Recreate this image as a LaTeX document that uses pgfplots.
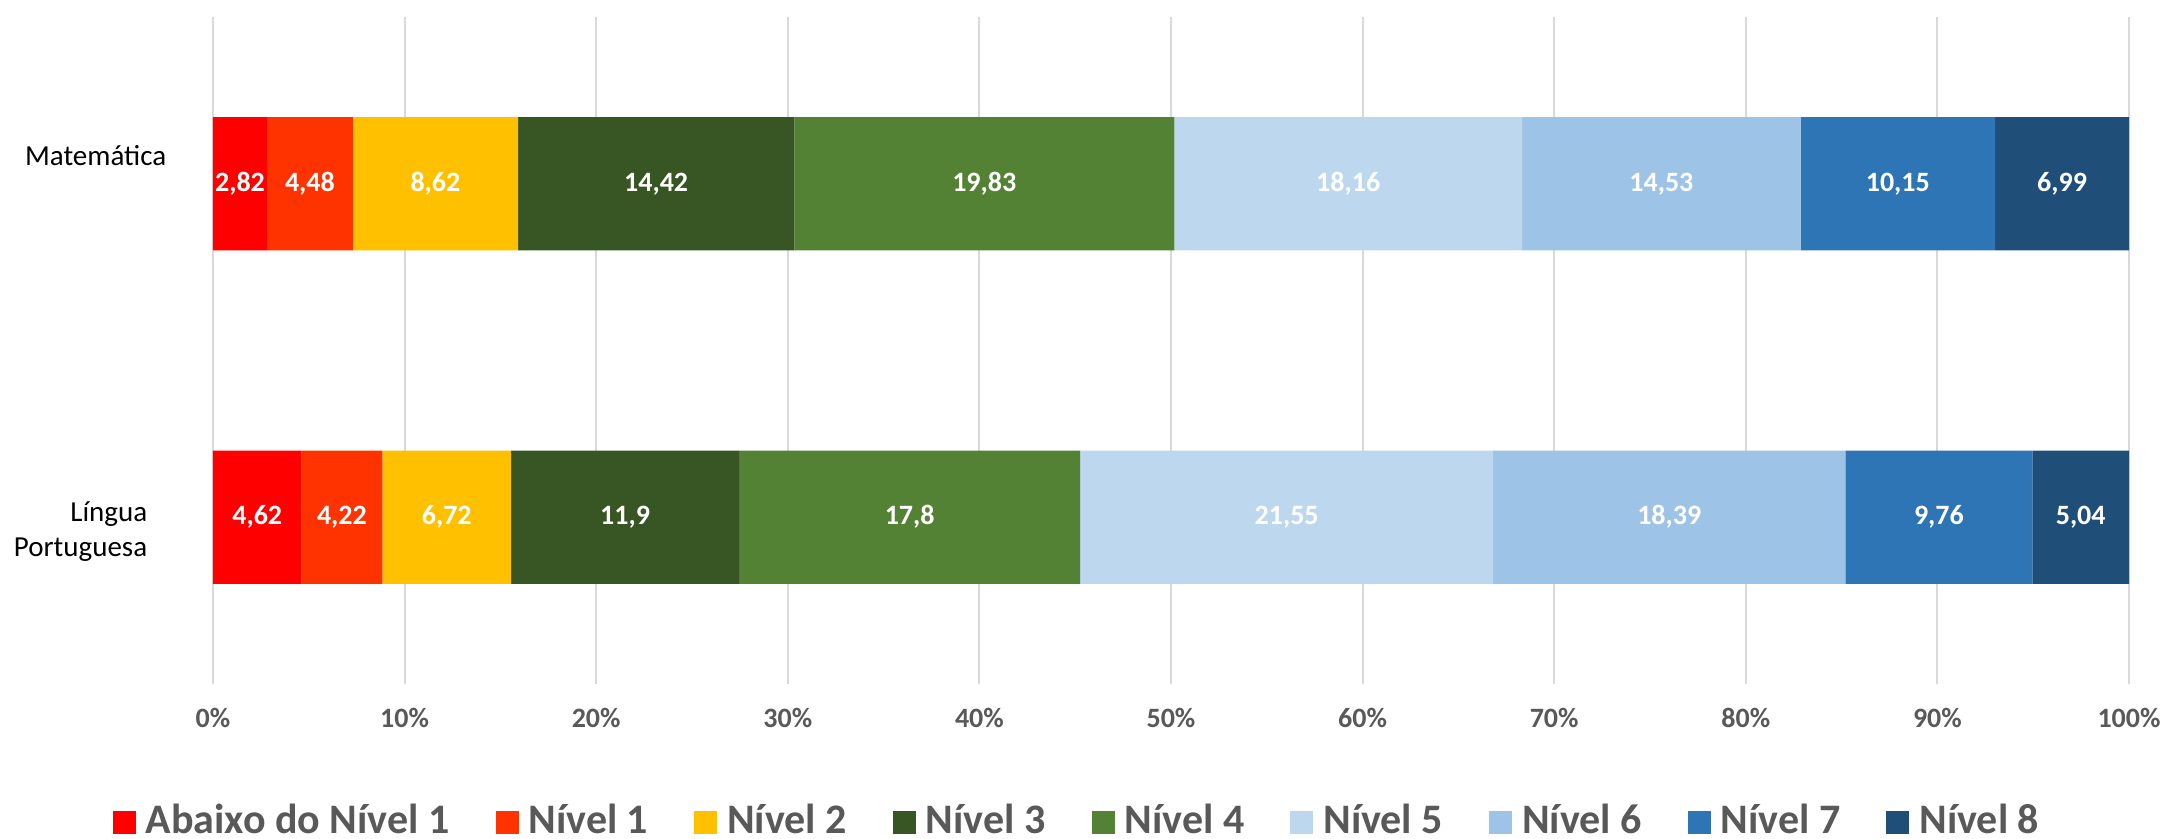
\documentclass[border=0pt]{standalone}
\usepackage{pgfplots}
\pgfplotsset{compat=1.18}
\usepackage{fontspec}
\setmainfont{Carlito}
\usetikzlibrary{calc}

\definecolor{c0}{HTML}{FF0000}
\definecolor{c1}{HTML}{FF3300}
\definecolor{c2}{HTML}{FFC000}
\definecolor{c3}{HTML}{375623}
\definecolor{c4}{HTML}{548235}
\definecolor{c5}{HTML}{BDD7EE}
\definecolor{c6}{HTML}{9DC3E6}
\definecolor{c7}{HTML}{2E75B6}
\definecolor{c8}{HTML}{1F4E79}
\definecolor{txt}{HTML}{595959}
\definecolor{gridc}{HTML}{D9D9D9}

\begin{document}
\begin{tikzpicture}
\begin{axis}[
  name=ax,
  xbar stacked,
  scale only axis,
  width=479pt, height=166.75pt,
  xmin=0, xmax=100,
  ymin=-0.5, ymax=1.5,
  bar width=0.4,
  xtick={0,10,...,100},
  xticklabel={\pgfmathprintnumber{\tick}\%},
  /pgf/number format/assume math mode=true,
  xticklabel style={font=\fontsize{7}{9}\selectfont\bfseries, text=txt, anchor=base, yshift=-11pt},
  xmajorgrids,
  grid style={gridc, line width=0.5pt},
  axis line style={draw=none},
  major tick length=0pt,
  ytick={0},
  yticklabels={{Língua\\Portuguesa}},
  yticklabel style={font=\fontsize{7.25}{8.75}\selectfont, align=right, anchor=east, inner sep=0pt, xshift=-16.25pt, yshift=-3.5pt},
  extra y ticks={1},
  extra y tick labels={Matemática},
  extra y tick style={yticklabel style={xshift=4.75pt, yshift=10.5pt}},
  point meta=rawx,
  nodes near coords={\pgfmathprintnumber[use comma, precision=2]{\pgfplotspointmeta}},
  every node near coord/.append style={font=\fontsize{7}{9}\selectfont\bfseries, text=white, anchor=center},
  legend style={draw=none, at={(0.4525,-0.207)}, anchor=center, legend columns=-1,
    font=\fontsize{10.5}{12}\selectfont\bfseries, text=txt, inner sep=0pt,
    /tikz/every odd column/.append style={column sep=0.5pt},
    /tikz/every even column/.append style={column sep=9.5pt}},
  legend image code/.code={\fill[#1] (0pt,-2.875pt) rectangle (5.75pt,2.875pt);},
]
\addplot[fill=c0, draw=none] coordinates {(4.62,0) (2.82,1)};
\addplot[fill=c1, draw=none] coordinates {(4.22,0) (4.48,1)};
\addplot[fill=c2, draw=none] coordinates {(6.72,0) (8.62,1)};
\addplot[fill=c3, draw=none] coordinates {(11.9,0) (14.42,1)};
\addplot[fill=c4, draw=none] coordinates {(17.8,0) (19.83,1)};
\addplot[fill=c5, draw=none] coordinates {(21.55,0) (18.16,1)};
\addplot[fill=c6, draw=none] coordinates {(18.39,0) (14.53,1)};
\addplot[fill=c7, draw=none] coordinates {(9.76,0) (10.15,1)};
\addplot[fill=c8, draw=none] coordinates {(5.04,0) (6.99,1)};
\legend{Abaixo do Nível 1, Nível 1, Nível 2, Nível 3, Nível 4, Nível 5, Nível 6, Nível 7, Nível 8}
\end{axis}
\pgfresetboundingbox
\path ($(ax.south west)+(-53.25pt,-38.75pt)$) rectangle ($(ax.north east)+(9.5pt,4.25pt)$);
\end{tikzpicture}
\end{document}
